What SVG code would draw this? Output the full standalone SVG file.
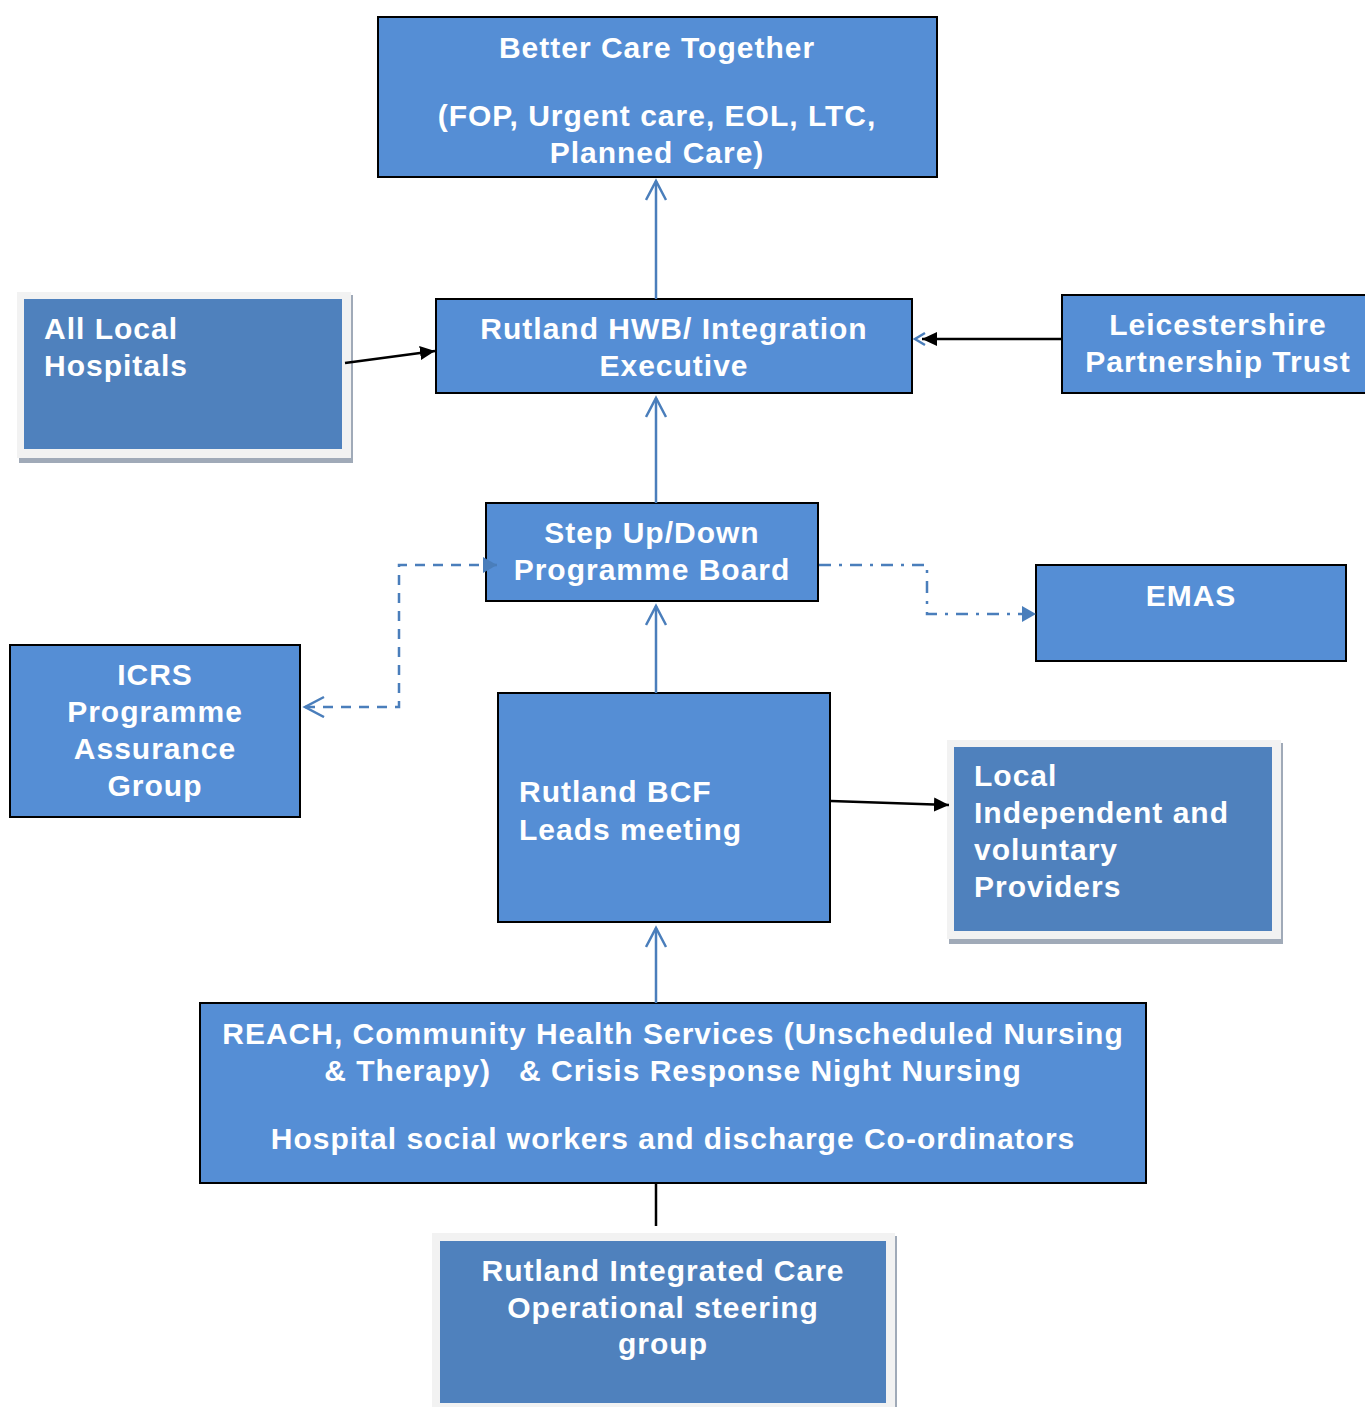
<svg xmlns="http://www.w3.org/2000/svg" width="1365" height="1407" viewBox="0 0 1365 1407">
<style>
.box{fill:#558ED5;stroke:#000;stroke-width:2}
.sbox{fill:#4F81BD}
.frame{fill:#F2F2F2}
.shadow{fill:#A0AAB8}
text{font-family:"Liberation Sans",Arial,sans-serif;font-weight:bold;font-size:30px;fill:#fff;letter-spacing:1px}
.c{text-anchor:middle}
.blue{stroke:#4A7EBB;stroke-width:2.5;fill:none}
.black{stroke:#000;stroke-width:2.5;fill:none}
</style>
<defs>
<marker id="open" markerUnits="userSpaceOnUse" markerWidth="24" markerHeight="24" refX="20" refY="11" orient="auto-start-reverse">
<polyline points="1,1 20,11 1,21" fill="none" stroke="#4A7EBB" stroke-width="2.5"/>
</marker>
<marker id="fblue" markerUnits="userSpaceOnUse" markerWidth="18" markerHeight="18" refX="14" refY="8" orient="auto">
<polygon points="0,0 14,8 0,16" fill="#4A7EBB"/>
</marker>
<marker id="fblack" markerUnits="userSpaceOnUse" markerWidth="18" markerHeight="18" refX="15" refY="7" orient="auto">
<polygon points="0,0 15,7 0,14" fill="#000"/>
</marker>
</defs>
<g id="better-care">
<rect class="box" x="378" y="17" width="559" height="160"/>
<text class="c" x="657" y="58">Better Care Together</text>
<text class="c" x="657" y="126">(FOP, Urgent care, EOL, LTC,</text>
<text class="c" x="657" y="163">Planned Care)</text>
</g>
<g id="hwb">
<rect class="box" x="436" y="299" width="476" height="94"/>
<text class="c" x="674" y="339">Rutland HWB/ Integration</text>
<text class="c" x="674" y="376">Executive</text>
</g>
<g id="hospitals">
<rect class="shadow" x="19" y="295" width="334" height="168"/>
<rect class="frame" x="17" y="292" width="334" height="166"/>
<rect class="sbox" x="24" y="299" width="318" height="150"/>
<text x="44" y="339">All Local</text>
<text x="44" y="376">Hospitals</text>
</g>
<g id="lpt">
<rect class="box" x="1062" y="295" width="310" height="98"/>
<text class="c" x="1218" y="335">Leicestershire</text>
<text class="c" x="1218" y="372">Partnership Trust</text>
</g>
<g id="stepup">
<rect class="box" x="486" y="503" width="332" height="98"/>
<text class="c" x="652" y="543">Step Up/Down</text>
<text class="c" x="652" y="580">Programme Board</text>
</g>
<g id="emas">
<rect class="box" x="1036" y="565" width="310" height="96"/>
<text class="c" x="1191" y="606">EMAS</text>
</g>
<g id="icrs">
<rect class="box" x="10" y="645" width="290" height="172"/>
<text class="c" x="155" y="685">ICRS</text>
<text class="c" x="155" y="722">Programme</text>
<text class="c" x="155" y="759">Assurance</text>
<text class="c" x="155" y="796">Group</text>
</g>
<g id="bcf">
<rect class="box" x="498" y="693" width="332" height="229"/>
<text x="519" y="802">Rutland BCF</text>
<text x="519" y="840">Leads meeting</text>
</g>
<g id="providers">
<rect class="shadow" x="949" y="743" width="334" height="201"/>
<rect class="frame" x="947" y="740" width="334" height="199"/>
<rect class="sbox" x="954" y="747" width="318" height="184"/>
<text x="974" y="786">Local</text>
<text x="974" y="823">Independent and</text>
<text x="974" y="860">voluntary</text>
<text x="974" y="897">Providers</text>
</g>
<g id="reach">
<rect class="box" x="200" y="1003" width="946" height="180"/>
<text class="c" x="673" y="1044">REACH, Community Health Services (Unscheduled Nursing</text>
<text class="c" x="673" y="1081" xml:space="preserve">&amp; Therapy)   &amp; Crisis Response Night Nursing</text>
<text class="c" x="673" y="1149">Hospital social workers and discharge Co-ordinators</text>
</g>
<g id="steering">
<rect class="shadow" x="434" y="1236" width="463" height="171"/>
<rect class="frame" x="432" y="1233" width="463" height="174"/>
<rect class="sbox" x="440" y="1241" width="446" height="162"/>
<text class="c" x="663" y="1281">Rutland Integrated Care</text>
<text class="c" x="663" y="1318">Operational steering</text>
<text class="c" x="663" y="1354">group</text>
</g>
<g id="connectors">
<line class="blue" x1="656" y1="299" x2="656" y2="181" marker-end="url(#open)"/>
<line class="blue" x1="656" y1="503" x2="656" y2="398" marker-end="url(#open)"/>
<line class="blue" x1="656" y1="693" x2="656" y2="606" marker-end="url(#open)"/>
<line class="blue" x1="656" y1="1003" x2="656" y2="928" marker-end="url(#open)"/>
<line class="black" x1="656" y1="1184" x2="656" y2="1226"/>
<line class="black" x1="345" y1="363" x2="435" y2="351" marker-end="url(#fblack)"/>
<polyline points="925,333 915,339 925,345" fill="none" stroke="#4A7EBB" stroke-width="2.5"/>
<line class="black" x1="1061" y1="339" x2="922" y2="339" marker-end="url(#fblack)"/>
<line class="black" x1="831" y1="801" x2="949" y2="805" marker-end="url(#fblack)"/>
<polyline class="blue" points="305,707 399,707 399,565 497,565" stroke-dasharray="10,8" marker-start="url(#open)" marker-end="url(#fblue)"/>
<polyline class="blue" points="819,565 927,565 927,614 1036,614" stroke-dasharray="12,8,3,8" marker-end="url(#fblue)"/>
</g>
</svg>
